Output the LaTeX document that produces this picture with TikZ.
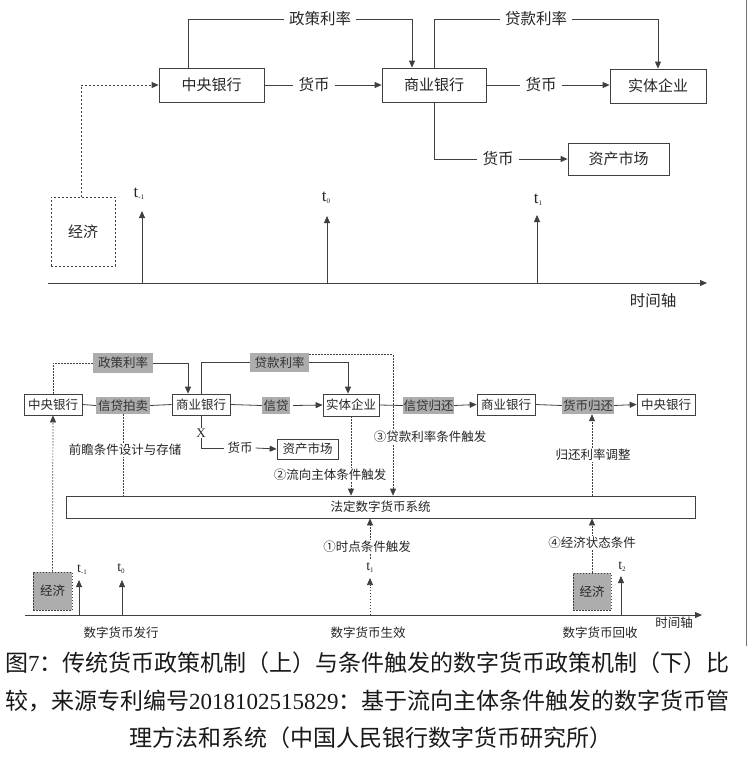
\documentclass[tikz,border=0pt]{standalone}
\usepackage{fontspec}
\setmainfont{Noto Sans CJK SC}
\newfontfamily\serifnum{Liberation Serif}
\usetikzlibrary{arrows.meta}
\newcommand\mytsub[2]{{\serifnum #1\raisebox{-0.3ex}{\fontsize{7}{7}\selectfont #2}}}
\begin{document}
\begin{tikzpicture}[x=1pt,y=-1pt,
  every node/.style={text=black!85, inner sep=0pt},
  box/.style={draw=black!75, line width=0.8pt, font=\fontsize{15}{15}\selectfont, fill=white},
  sbox/.style={draw=black!75, line width=0.7pt, minimum height=21pt, minimum width=58pt, font=\fontsize{12.5}{12.5}\selectfont, fill=white},
  glab/.style={fill=black!32, font=\fontsize{12.5}{12.5}\selectfont, minimum height=17pt, text=black!80},
  lab/.style={font=\fontsize{15.5}{15.5}\selectfont, inner xsep=5pt},
  slab/.style={font=\fontsize{12.5}{12.5}\selectfont, fill=white, inner sep=1.5pt},
  tl/.style={font=\fontsize{17}{17}\selectfont},
  stl/.style={font=\fontsize{14}{14}\selectfont},
  ln/.style={draw=black!75, line width=0.8pt},
  arr/.style={ln, -{Triangle[length=7pt,width=6pt]}},
  dl/.style={ln, line width=0.7pt, dash pattern=on 1.5pt off 1.5pt},
  darr/.style={dl, -{Triangle[length=7pt,width=6pt]}},
  captxt/.style={font=\fontsize{23}{23}\selectfont, text=black!90}
]
\fill[white] (0,0) rectangle (748,758);
\useasboundingbox (0,0) rectangle (748,758);

% ================= top diagram =================
\node[box, minimum width=105pt, minimum height=34pt] (cb) at (211.5,85) {中央银行};
\node[box, minimum width=104pt, minimum height=34pt] (sb) at (434,85) {商业银行};
\node[box, minimum width=96pt, minimum height=34pt] (sti) at (658,86) {实体企业};
\node[box, minimum width=101pt, minimum height=32pt] (zc) at (618.5,159) {资产市场};
\node[box, dash pattern=on 2pt off 2pt, minimum width=64pt, minimum height=69pt] (econ) at (83,231.5) {经济};
\node[lab] (pl) at (320,19) {政策利率};
\node[lab] (ll) at (536,19) {贷款利率};
\node[lab] (m1) at (314,85) {货币};
\node[lab] (m2) at (541,85) {货币};
\node[lab] (m3) at (498,159) {货币};

\draw[ln] ([xshift=-23.5pt]cb.north) |- (pl.west);
\draw[arr] (pl.east) -| ([xshift=-22pt]sb.north);
\draw[ln] (sb.north) |- (ll.west);
\draw[arr] (ll.east) -| (sti.north);
\draw[ln] (cb.east) -- (m1.west);
\draw[arr] (m1.east) -- (sb.west);
\draw[ln] (sb.east) -- (m2.west);
\draw[arr] (m2.east) -- (sti.west |- m2.east);
\draw[ln] (sb.south) |- (m3.west);
\draw[arr] (m3.east) -- (zc.west);
\draw[arr, dash pattern=on 2pt off 2pt] ([xshift=-2pt]econ.north) |- (cb.west);

% top time axis
\coordinate (a0) at (48,283);
\coordinate (a1) at (707,283);
\draw[arr] (a0) -- (a1);
\node[lab] at (653,301) {时间轴};
\coordinate (tb1) at (142,283); \coordinate (tt1) at (142,211);
\coordinate (tb2) at (327,283); \coordinate (tt2) at (327,216);
\coordinate (tb3) at (537,283); \coordinate (tt3) at (537,215);
\draw[arr] (tb1) -- (tt1);
\draw[arr] (tb2) -- (tt2);
\draw[arr] (tb3) -- (tt3);
\node[tl] at (139,194) {\mytsub{t}{-1}};
\node[tl] at (326,198) {\mytsub{t}{0}};
\node[tl] at (538,200) {\mytsub{t}{1}};

% ================= bottom diagram =================
\node[sbox] (cb2) at (53,404.5) {中央银行};
\node[glab, minimum width=54pt] (xdpm) at (123,405.5) {信贷拍卖};
\node[sbox] (sb2) at (201,404.5) {商业银行};
\node[glab, minimum width=60pt, minimum height=20pt] (zcll) at (123,363) {政策利率};
\node[glab, minimum width=59pt, minimum height=19pt] (dkll) at (279.5,362.5) {贷款利率};
\node[sbox, minimum width=56pt, minimum height=22pt] (stq) at (351,405) {实体企业};
\node[glab, minimum width=28pt] (xd) at (276,405.5) {信贷};
\node[glab, minimum width=51pt] (xdgh) at (428.5,405.5) {信贷归还};
\node[sbox] (sb3) at (506,404.5) {商业银行};
\node[glab, minimum width=52pt] (hbgh) at (588,405.5) {货币归还};
\node[sbox] (cb3) at (666,404.5) {中央银行};
\node[sbox, minimum width=61pt, minimum height=20pt] (zc2) at (307.5,449) {资产市场};
\node[sbox, minimum width=629pt, minimum height=22pt] (sys) at (380.5,507) {法定数字货币系统};
\node[sbox, fill=black!32, dash pattern=on 1.5pt off 1.5pt, minimum width=39pt, minimum height=38pt] (econ2) at (52.5,591) {经济};
\node[sbox, fill=black!32, dash pattern=on 1.5pt off 1.5pt, minimum width=38pt, minimum height=37pt] (econ3) at (592,591.5) {经济};
\node[font=\fontsize{13}{13}\selectfont\serifnum, fill=white, inner sep=1pt] (xx) at (201,433) {X};
\node[font=\fontsize{12.5}{12.5}\selectfont, inner xsep=3pt] (m4) at (240,448) {货币};

\draw[dl] (cb2.north) |- (zcll.west);
\draw[arr] (zcll.east) -| ([xshift=-13pt]sb2.north);
\draw[ln] (sb2.north) |- (dkll.west);
\draw[arr] (dkll.east) -| ([xshift=-3pt]stq.north);
\draw[ln] (cb2.east) -- (xdpm.west);
\draw[ln] (xdpm.east) -- (sb2.west);
\draw[ln] (sb2.east) -- (xd.west);
\draw[arr] ([xshift=3pt]xd.east) -- (stq.west);
\draw[ln] (stq.east) -- (xdgh.west);
\draw[arr] (xdgh.east) -- (sb3.west);
\draw[ln] (sb3.east) -- (hbgh.west);
\draw[arr] (hbgh.east) -- (cb3.west);
\draw[ln] (sb2.south) -- (xx.north);
\draw[ln] (xx.south) |- (m4.west);
\draw[arr] (m4.east) -- (zc2.west);

% dotted connectors
\draw[dl] (xdpm.south) -- (xdpm.south |- sys.north);
\node[slab] at (125,450) {前瞻条件设计与存储};
\draw[darr] (stq.south) -- (stq.south |- sys.north);
\node[slab] at (330,475) {②流向主体条件触发};
\draw[darr] ([yshift=-2pt]dkll.north east) -| ([xshift=12.5pt]sys.north);
\node[slab] at (430,437) {③贷款利率条件触发};
\draw[darr] ([xshift=4pt]hbgh.south |- sys.north) -- ([xshift=4pt]hbgh.south);
\node[slab] at (593,455) {归还利率调整};
\draw[darr] (econ3.north) -- (econ3.north |- sys.south);
\node[slab] at (592,543) {④经济状态条件};
\draw[darr] (econ2.north) -- (cb2.south);

% bottom time axis
\coordinate (b0) at (25,615);
\coordinate (b1) at (702,615);
\draw[arr] (b0) -- (b1);
\node[font=\fontsize{12.5}{12.5}\selectfont] at (674,623) {时间轴};
\coordinate (sb1) at (79,615);  \coordinate (st1) at (79,580);
\coordinate (sb2c) at (122,615); \coordinate (st2) at (122,580);
\coordinate (sb3c) at (370,615); \coordinate (st3) at (370,578);
\coordinate (sb4) at (621,615); \coordinate (st4) at (621,576);
\draw[arr] (sb1) -- (st1);
\draw[arr] (sb2c) -- (st2);
\draw[darr] (sb3c) -- (st3);
\draw[arr] (sb4) -- (st4);
\node[stl] at (82,570) {\mytsub{t}{-1}};
\node[stl] at (121,569) {\mytsub{t}{0}};
\node[stl] (t1b) at (370,568) {\mytsub{t}{1}};
\node[stl] at (622,567) {\mytsub{t}{2}};
\draw[darr] ([yshift=4pt]t1b.north) -- (t1b.north |- sys.south);
\node[slab] at (367,547) {①时点条件触发};
\node[font=\fontsize{12.5}{12.5}\selectfont] at (121,633) {数字货币发行};
\node[font=\fontsize{12.5}{12.5}\selectfont] at (368,633) {数字货币生效};
\node[font=\fontsize{12.5}{12.5}\selectfont] at (600,633) {数字货币回收};

% right edge line
\draw[black!55, line width=1pt] (746.5,0) -- (746.5,646);

% caption
\node[captxt] at (367.5,663) {图{\serifnum 7}：传统货币政策机制（上）与条件触发的数字货币政策机制（下）比};
\node[captxt] at (367.5,701) {较，来源专利编号{\serifnum 2018102515829}：基于流向主体条件触发的数字货币管};
\node[captxt] at (371,738) {理方法和系统（中国人民银行数字货币研究所）};
\end{tikzpicture}
\end{document}
